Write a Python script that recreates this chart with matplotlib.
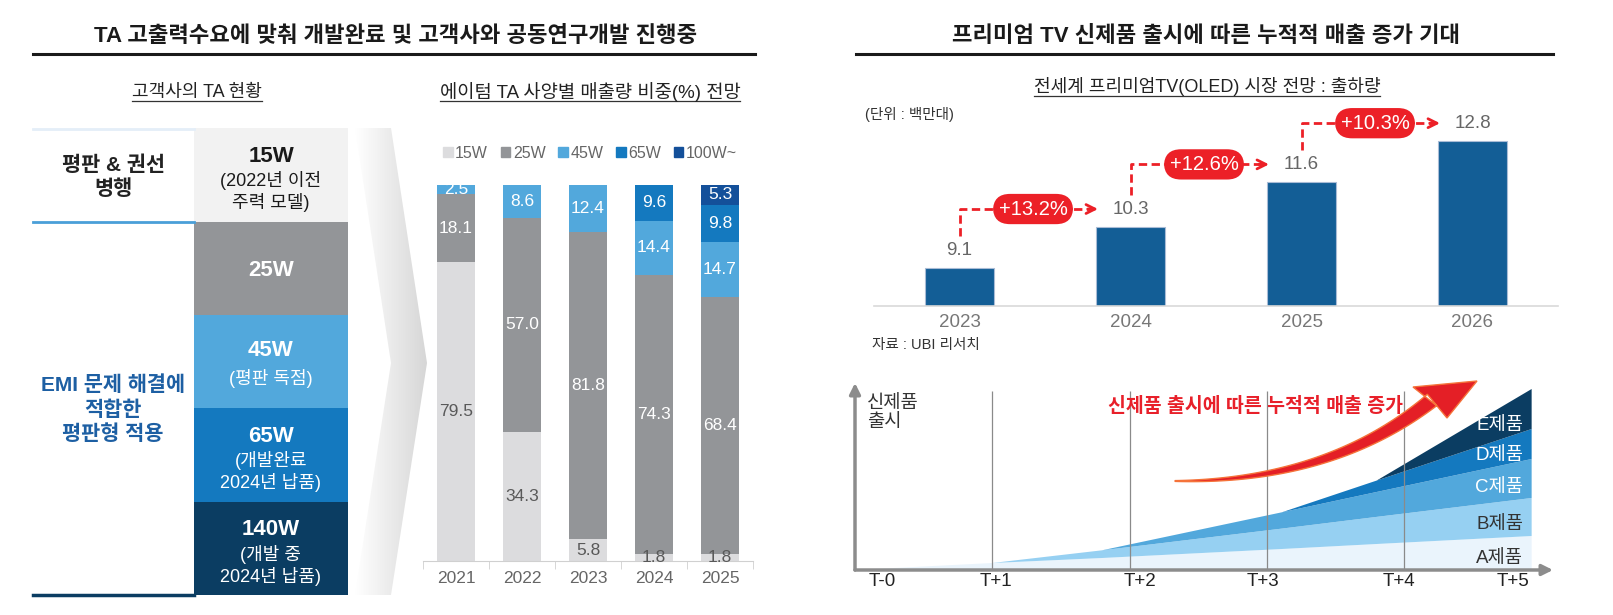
import matplotlib
matplotlib.use("Agg")
import matplotlib.pyplot as plt
import numpy as np
from matplotlib.patches import Polygon, Rectangle, Patch
from matplotlib.colors import LinearSegmentedColormap

plt.rcParams['font.family'] = ['Liberation Sans', 'Noto Sans CJK KR', 'DejaVu Sans']

W, H = 1613, 615

# ---- data -------------------------------------------------------------
left_title = "TA 고출력수요에 맞춰 개발완료 및 고객사와 공동연구개발 진행중"
right_title = "프리미엄 TV 신제품 출시에 따른 누적적 매출 증가 기대"

# customer TA table
ta_specs = ["15W", "25W", "45W", "65W", "140W"]
ta_notes = ["(2022년 이전\n주력 모델)", "", "(평판 독점)", "(개발완료\n2024년 납품)", "(개발 중\n2024년 납품)"]
ta_groups = ["평판 & 권선\n병행", "EMI 문제 해결에\n적합한\n평판형 적용"]

# sales share by spec (%)
ta_years = ["2021", "2022", "2023", "2024", "2025"]
share_names = ["15W", "25W", "45W", "65W", "100W~"]
share_15w = [79.5, 34.3, 5.8, 1.8, 1.8]
share_25w = [18.1, 57.0, 81.8, 74.3, 68.4]
share_45w = [2.5, 8.6, 12.4, 14.4, 14.7]
share_65w = [0, 0, 0, 9.6, 9.8]
share_100w = [0, 0, 0, 0, 5.3]

# premium TV (OLED) shipments, million units
tv_years = ["2023", "2024", "2025", "2026"]
tv_units = [9.1, 10.3, 11.6, 12.8]

# cumulative revenue by product (layer thickness at each kink point)
t_labels = ["T-0", "T+1", "T+2", "T+3", "T+4", "T+5"]
rev_x = [0, 1.0, 1.8, 3.11, 3.8, 4.93]
rev_a = [0, 7, 12, 21, 26, 34]
rev_b = [0, 0, 7.7, 20.4, 27.1, 38]
rev_c = [0, 0, 0, 16.3, 24.9, 39]
rev_d = [0, 0, 0, 0, 11.4, 30]
rev_e = [0, 0, 0, 0, 0, 40]
product_names = ["A제품", "B제품", "C제품", "D제품", "E제품"]

# ---- figure ----------------------------------------------------------
fig = plt.figure(figsize=(W / 100, H / 100), dpi=100)


def px_rect(x0, y0, x1, y1):
    return [x0 / W, 1 - y1 / H, (x1 - x0) / W, (y1 - y0) / H]


ov = fig.add_axes([0, 0, 1, 1])
ov.axis("off")

# chevron with gradient
chev = Polygon([(355, 128), (391, 128), (427, 363), (391, 595), (355, 595), (391, 363)],
               closed=True, transform=ov.transData, fc="none", ec="none")
ov.add_patch(chev)
grad = np.tile(np.linspace(0, 1, 100), (10, 1))
cm = LinearSegmentedColormap.from_list("g", ["#ffffff", "#d6d6d6"])
im = ov.imshow(grad, extent=[355, 428, 595, 128], cmap=cm, aspect="auto", origin="upper")
im.set_clip_path(chev)
ov.set_xlim(0, W)
ov.set_ylim(H, 0)

# titles
ov.text(396, 37, left_title, ha="center", va="center", fontsize=16, fontweight="bold", color="#1a1a1a")
ov.plot([33, 755], [54, 54], color="#1a1a1a", lw=2.2)
ov.text(1206, 37, right_title, ha="center", va="center", fontsize=16, fontweight="bold", color="#1a1a1a")
ov.plot([856, 1553], [54, 54], color="#1a1a1a", lw=2.2)

subs = [
    ov.text(197, 92, "고객사의 TA 현황", ha="center", va="center", fontsize=13, color="#222"),
    ov.text(590, 92, "에이텀 TA 사양별 매출량 비중(%) 전망", ha="center", va="center", fontsize=13.5, color="#222"),
    ov.text(1207, 87, "전세계 프리미엄TV(OLED) 시장 전망 : 출하량", ha="center", va="center", fontsize=13, color="#222"),
]

# table
row_edges = [128, 222, 315, 408, 502, 595]
row_colors = ["#f2f2f2", "#939598", "#52a8dc", "#1479bf", "#0b3d62"]
for i, (spec, note) in enumerate(zip(ta_specs, ta_notes)):
    y0, y1 = row_edges[i], row_edges[i + 1]
    ov.add_patch(Rectangle((194, y0), 154, y1 - y0, fc=row_colors[i], ec="none"))
    tc = "#1a1a1a" if i == 0 else "white"
    yc = (y0 + y1) / 2
    n = note.count("\n") + 1 if note else 0
    if n == 0:
        ov.text(271, yc + 2, spec, ha="center", va="center", fontsize=16, fontweight="bold", color=tc)
    else:
        ty = yc - (19 if n == 2 else 11)
        ov.text(271, ty, spec, ha="center", va="center", fontsize=16, fontweight="bold", color=tc)
        ov.text(271, yc + (17 if n == 2 else 17.5), note, ha="center", va="center", fontsize=13,
                color=tc, linespacing=1.2)
ov.plot([33, 194], [128.5, 128.5], color="#e4eef8", lw=2)
ov.plot([33, 194], [222, 222], color="#4a9fd8", lw=2)
ov.plot([33, 194], [595, 595], color="#0b3d62", lw=2.5)
ov.text(113, 177, ta_groups[0], ha="center", va="center", fontsize=15, fontweight="bold",
        color="#222", linespacing=1.3)
ov.text(113, 410, ta_groups[1], ha="center", va="center", fontsize=15, fontweight="bold",
        color="#1d5fa3", linespacing=1.32)

# ---- stacked share bars --------------------------------------------
axb = fig.add_axes(px_rect(423, 185, 753, 561))
axb.patch.set_alpha(0)
share_series = [share_15w, share_25w, share_45w, share_65w, share_100w]
share_colors = ["#dcdcde", "#939598", "#52a8dc", "#1479bf", "#14509a"]
label_colors = ["#595959", "white", "white", "white", "white"]
xs = np.arange(len(ta_years))
bottom = np.zeros(len(ta_years))
for vals, col, lc in zip(share_series, share_colors, label_colors):
    vals = np.array(vals, dtype=float)
    axb.bar(xs, vals, 0.59, bottom=bottom, color=col, clip_on=False)
    for x, v, b in zip(xs, vals, bottom):
        if v > 0:
            axb.text(x, b + v / 2, f"{v:.1f}", ha="center", va="center", fontsize=12.5, color=lc)
    bottom += vals
axb.set_xlim(-0.5, 4.5)
axb.set_ylim(0, 100)
axb.set_yticks([])
for s in ["left", "right", "top"]:
    axb.spines[s].set_visible(False)
axb.spines["bottom"].set_color("#d0d0d0")
axb.set_xticks(xs, ta_years)
axb.set_xticks(np.arange(-0.5, 5, 1), minor=True)
axb.tick_params(axis="x", which="major", length=0, labelsize=12.5, labelcolor="#666", pad=7)
axb.tick_params(axis="x", which="minor", length=6, color="#d0d0d0")
handles = [Patch(color=c, label=n) for c, n in zip(share_colors, share_names)]
axb.legend(handles=handles, ncol=5, loc="center", bbox_to_anchor=(590 / W, 1 - 153 / H),
           bbox_transform=fig.transFigure, frameon=False, fontsize=11.5, handlelength=0.6,
           handleheight=0.6, handletextpad=0.15, columnspacing=0.8, labelcolor="#666")

# ---- OLED shipment bars --------------------------------------------
red = "#ec2027"
axr = fig.add_axes(px_rect(874, 100, 1558, 306))
axr.patch.set_alpha(0)
k = 34.32  # px per unit
tx = np.arange(len(tv_years))
axr.bar(tx, tv_units, 0.4, color="#135e96", edgecolor="#a9bcd6", lw=0.8)
for x, v in zip(tx, tv_units):
    axr.text(x, v + 18 / k, f"{v:.1f}", ha="center", va="center", fontsize=13.5, color="#666")
for i in range(len(tv_units) - 1):
    y0 = tv_units[i] + 32 / k
    yh = tv_units[i + 1] + 18 / k
    tip = i + 1 - 0.19
    axr.plot([i, i, tip - 0.03], [y0, yh, yh], color=red, lw=2, ls=(0, (3, 1.6)))
    axr.annotate("", xy=(tip, yh), xytext=(tip - 0.06, yh),
                 arrowprops=dict(arrowstyle="->", color=red, lw=2, mutation_scale=16,
                                 shrinkA=0, shrinkB=0))
    g = (tv_units[i + 1] / tv_units[i] - 1) * 100
    axr.text(i + 0.43, yh, f"+{g:.1f}%", ha="center", va="center", color="white", fontsize=14.5,
             bbox=dict(boxstyle="round,pad=0.28,rounding_size=0.85", fc=red, ec="none"), zorder=5)
axr.set_xlim(-0.5, 3.5)
axr.set_ylim(8, 14)
axr.set_yticks([])
for s in ["left", "right", "top"]:
    axr.spines[s].set_visible(False)
axr.spines["bottom"].set_color("#d9d9d9")
axr.spines["bottom"].set_linewidth(1.2)
axr.set_xticks(tx, tv_years)
axr.tick_params(axis="x", length=0, labelsize=13.5, labelcolor="#777", pad=6)
ov.text(865, 114, "(단위 : 백만대)", ha="left", va="center", fontsize=10.5, color="#333")
ov.text(872, 345, "자료 : UBI 리서치", ha="left", va="center", fontsize=10.5, color="#333")

# ---- cumulative revenue area -----------------------------------------
axa = fig.add_axes(px_rect(855, 383, 1553, 570))
axa.patch.set_alpha(0)
area_colors = ["#eaf4fc", "#96d0f2", "#52a8dc", "#1479bf", "#0b3d62"]
layers = [rev_a, rev_b, rev_c, rev_d, rev_e]
axa.stackplot(rev_x, layers, colors=area_colors, lw=0)
axa.vlines([1, 2, 3, 4], 0, 179, color="#8a8a8a", lw=0.9, zorder=3)
axa.set_xlim(0, (1553 - 855) / 137.25)
axa.set_ylim(0, 187)
axa.axis("off")
for xy in [(0, 1), (1, 0)]:
    axa.annotate("", xy=xy, xytext=(0, 0), xycoords="axes fraction",
                 arrowprops=dict(arrowstyle="-|>", color="#8c8c8c", lw=2.5, mutation_scale=16,
                                 shrinkA=0, shrinkB=0), zorder=4)
tick_pos = [0.1, 1.03, 2.08, 2.97, 3.96, 4.91]
tick_ha = ["left", "center", "center", "center", "center", "right"]
for p, lab, ha in zip(tick_pos, t_labels, tick_ha):
    axa.text(p, -12, lab, ha=ha, va="center", fontsize=13.5, color="#222", clip_on=False)
cum = np.cumsum(np.array(layers, dtype=float), axis=0)
lx = 4.75
prod_colors = ["#333", "#333", "white", "white", "white"]
prev = 0.0
for i, name in enumerate(product_names):
    top = np.interp(lx, rev_x, cum[i])
    axa.text(4.87, (prev + top) / 2 - 5, name, ha="right", va="center", fontsize=13.5,
             color=prod_colors[i], zorder=5)
    prev = top
axa.text(0.09, 175, "신제품\n출시", ha="left", va="top", fontsize=13.5, color="#333", linespacing=1.15)

# red sweeping arrow (top overlay)
top_ax = fig.add_axes([0, 0, 1, 1], zorder=5)
top_ax.set_xlim(0, W)
top_ax.set_ylim(H, 0)
top_ax.axis("off")
t = np.linspace(0, 1, 80)
P0, P1, P2 = np.array([1175, 481]), np.array([1330, 482]), np.array([1432, 400])
curve = ((1 - t) ** 2)[:, None] * P0 + (2 * (1 - t) * t)[:, None] * P1 + (t ** 2)[:, None] * P2
deriv = (2 * (1 - t))[:, None] * (P1 - P0) + (2 * t)[:, None] * (P2 - P1)
nrm = np.stack([-deriv[:, 1], deriv[:, 0]], axis=1)
nrm /= np.linalg.norm(nrm, axis=1)[:, None]
hw = 0.4 + 7.0 * t
upper = curve + nrm * hw[:, None]
lower = curve - nrm * hw[:, None]
pts = np.vstack([upper, [[1413, 387], [1477, 381], [1447, 418]], lower[::-1]])
top_ax.add_patch(Polygon(pts, closed=True, fc="#e41f26", ec="#f5733a", lw=1))
top_ax.text(1255, 407, "신제품 출시에 따른 누적적 매출 증가", ha="center", va="center",
            fontsize=14, fontweight="bold", color="#e8202a")

# underlines for subtitles
renderer = fig.canvas.get_renderer()
for s in subs:
    bb = s.get_window_extent(renderer)
    yy = s.get_position()[1] + 9
    ov.plot([bb.x0, bb.x1], [yy, yy], color="#333", lw=0.9)

fig.savefig("out.png", dpi=100)
